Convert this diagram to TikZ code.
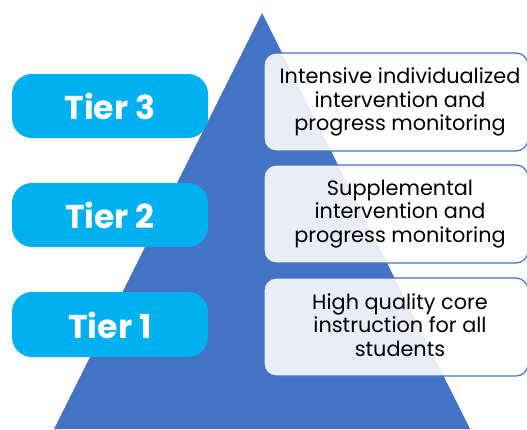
\documentclass[tikz,border=0pt]{standalone}
\usepackage{fontspec}
\setmainfont{Poppins}
\definecolor{pyr}{HTML}{4472C4}
\definecolor{tier}{HTML}{00B0F0}
\begin{document}
\begin{tikzpicture}[x=1pt,y=-1pt,
  tierbox/.style={fill=tier,rounded corners=20pt},
  tiertext/.style={text=white,font=\fontsize{33}{36}\selectfont\bfseries},
  descbox/.style={draw=pyr,line width=1.2pt,fill=white,fill opacity=0.88,rounded corners=12pt},
  desctext/.style={align=center,text=black,font=\fontsize{20.8}{23.5}\selectfont}]
\useasboundingbox (0,0) rectangle (527,429);
\clip (0,0) rectangle (527,429);
\fill[pyr] (262,13) -- (470,429) -- (54,429) -- cycle;
% tiers
\fill[tierbox] (12,74) rectangle (208,138);
\node[tiertext] (t3) at (110,106) {Tier 3};
\fill[tierbox] (12,183) rectangle (208,247);
\node[tiertext] (t2) at (110,215) {Tier 2};
\fill[tierbox] (12,292) rectangle (208,357);
\node[tiertext] (t1) at (110,325) {Tier 1};
% descriptions
\draw[descbox] (264,53) rectangle (528,151);
\node[desctext] (d3) at (400,102) {Intensive individualized\\intervention and\\progress monitoring};
\draw[descbox] (264,165) rectangle (528,263);
\node[desctext] (d2) at (400,214) {Supplemental\\intervention and\\progress monitoring};
\draw[descbox] (264,278) rectangle (528,376);
\node[desctext] (d1) at (400,325) {High quality core\\instruction for all\\students};
\end{tikzpicture}
\end{document}
